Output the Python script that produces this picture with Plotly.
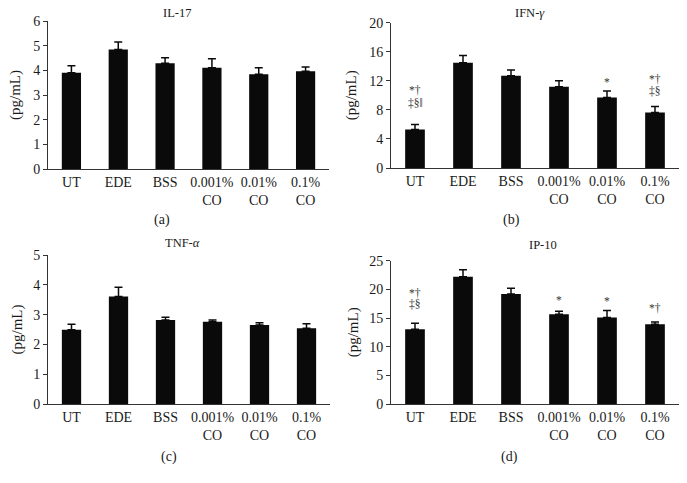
import plotly.graph_objects as go

W, H = 687, 483

categories = ["UT", "EDE", "BSS", "0.001%<br>CO", "0.01%<br>CO", "0.1%<br>CO"]

il17_mean = [3.90, 4.84, 4.29, 4.10, 3.84, 3.96]
il17_upper = [4.19, 5.15, 4.51, 4.47, 4.10, 4.14]

ifng_mean = [5.3, 14.5, 12.7, 11.2, 9.7, 7.65]
ifng_upper = [6.0, 15.5, 13.5, 12.0, 10.6, 8.47]
# significance marks: (category index, text, y position)
ifng_sig = [(0, "*†", 10.7), (0, "‡§‖", 9.0), (4, "*", 11.9), (5, "*†", 12.2), (5, "‡§", 10.6)]

tnfa_mean = [2.49, 3.61, 2.82, 2.76, 2.65, 2.54]
tnfa_upper = [2.68, 3.92, 2.91, 2.82, 2.73, 2.69]

ip10_mean = [13.05, 22.2, 19.2, 15.66, 15.1, 13.9]
ip10_upper = [14.1, 23.4, 20.2, 16.2, 16.3, 14.3]
ip10_sig = [(0, "*†", 19.4), (0, "‡§", 17.4), (3, "*", 18.1), (4, "*", 18.0), (5, "*†", 16.7)]

panels = [
    dict(title="IL-17", label="(a)", mean=il17_mean, upper=il17_upper, ymax=6, dtick=1,
         px=(48, 329), py=(21, 169), title_xy=(177, 13), label_xy=(162, 220), ytitle_x=15,
         sig=None),
    dict(title="IFN-<i>γ</i>", label="(b)", mean=ifng_mean, upper=ifng_upper, ymax=20, dtick=4,
         px=(391, 679), py=(22.7, 168), title_xy=(530, 13), label_xy=(511, 220), ytitle_x=351,
         sig=ifng_sig),
    dict(title="TNF-<i>α</i>", label="(c)", mean=tnfa_mean, upper=tnfa_upper, ymax=5, dtick=1,
         px=(48, 330), py=(255, 404), title_xy=(182, 243), label_xy=(169, 457), ytitle_x=17,
         sig=None),
    dict(title="IP-10", label="(d)", mean=ip10_mean, upper=ip10_upper, ymax=25, dtick=5,
         px=(391, 679), py=(260.7, 404), title_xy=(543, 245), label_xy=(509, 457), ytitle_x=353,
         sig=ip10_sig),
]

FONT = "Liberation Serif, Times New Roman, serif"
TXT = "#1a1a1a"
fig = go.Figure()
annotations = []
layout = {}

for i, p in enumerate(panels):
    n = "" if i == 0 else str(i + 1)
    xref, yref = "x" + n, "y" + n
    err = [u - m for u, m in zip(p["upper"], p["mean"])]
    fig.add_trace(go.Bar(
        x=categories, y=p["mean"], xaxis=xref, yaxis=yref,
        marker=dict(color="#0a0a0a", line=dict(width=0)),
        error_y=dict(type="data", array=err, arrayminus=[0] * len(err), symmetric=False,
                     color="#0a0a0a", thickness=1.5, width=4),
        showlegend=False, hoverinfo="skip",
    ))
    x0, x1 = p["px"]
    yt, yb = p["py"]
    layout["xaxis" + n] = dict(
        domain=[x0 / W, x1 / W], anchor=yref, showline=True, linecolor="#333", linewidth=1,
        ticks="", showgrid=False, tickfont=dict(family=FONT, size=14, color=TXT),
        range=[-0.5, 5.5], fixedrange=True, automargin=False,
    )
    layout["yaxis" + n] = dict(
        domain=[1 - yb / H, 1 - yt / H], anchor=xref, showline=True, linecolor="#333", linewidth=1,
        ticks="outside", ticklen=4, tickcolor="#333", showgrid=False, zeroline=False,
        range=[0, p["ymax"]], dtick=p["dtick"], tick0=0, automargin=False, fixedrange=True,
        tickfont=dict(family=FONT, size=14, color=TXT),
    )
    common = dict(xref="paper", yref="paper", showarrow=False, xanchor="center", yanchor="middle")
    annotations.append(dict(text=p["title"], x=p["title_xy"][0] / W, y=1 - p["title_xy"][1] / H,
                            font=dict(family=FONT, size=12.5, color=TXT), **common))
    annotations.append(dict(text=p["label"], x=p["label_xy"][0] / W, y=1 - p["label_xy"][1] / H,
                            font=dict(family=FONT, size=14, color=TXT), **common))
    annotations.append(dict(text="(pg/mL)", x=p["ytitle_x"] / W, y=1 - ((yt + yb) / 2) / H,
                            textangle=-90, font=dict(family=FONT, size=15, color=TXT), **common))
    if p["sig"]:
        for ci, s, sy in p["sig"]:
            annotations.append(dict(text=s, x=categories[ci], y=sy, xref=xref, yref=yref,
                                    showarrow=False, xanchor="center", yanchor="middle",
                                    font=dict(family=FONT, size=11.5, color="#333")))

fig.update_layout(
    width=W, height=H, autosize=False,
    margin=dict(l=0, r=0, t=0, b=0, pad=0, autoexpand=False),
    plot_bgcolor="white", paper_bgcolor="white",
    bargap=0.59,
    annotations=annotations,
    **layout,
)

fig.write_html("out.html", config={"displayModeBar": False},
               post_script="document.body.style.margin='0';document.body.style.padding='0';")
